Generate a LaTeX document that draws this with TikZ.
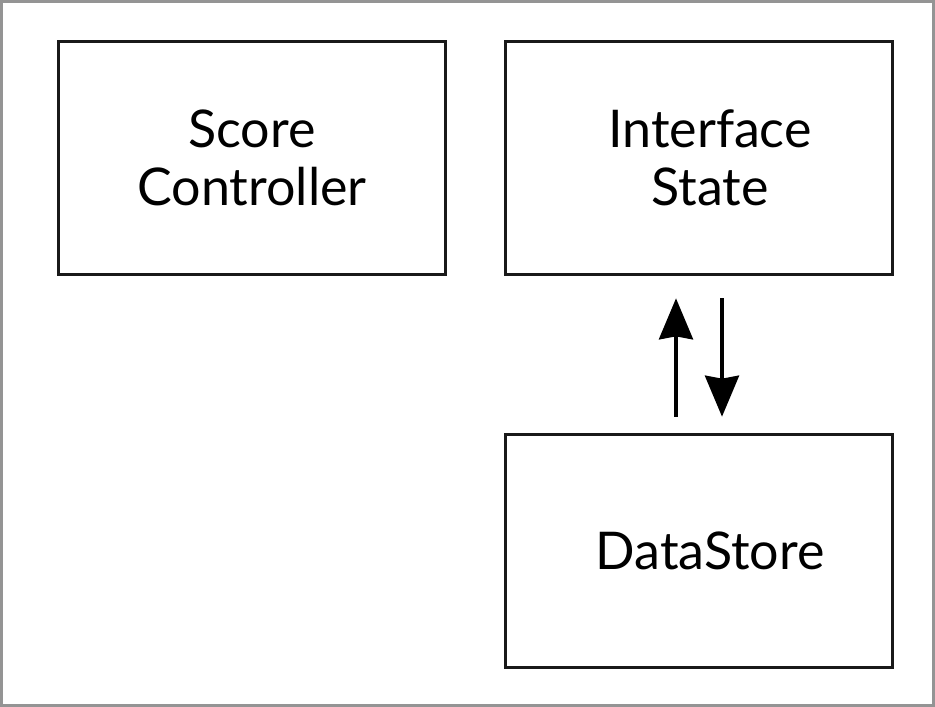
\documentclass[tikz,border=0pt]{standalone}
\usepackage{fontspec}
\setmainfont{Lato}
\usetikzlibrary{positioning,arrows.meta}

\newcommand{\nudge}{\hspace*{22pt}}

\tikzset{
	block/.style={draw=black!90, line width=3.7pt, minimum width=387pt, minimum height=233pt,
		align=center, font=\fontsize{52}{58}\selectfont},
	flow/.style={line width=3.5pt, -{Stealth[length=41pt,width=34pt,inset=3pt]}}
}

\begin{document}
\begin{tikzpicture}[x=1pt, y=-1pt]
	\draw[line width=3pt, draw=black!42, fill=white] (1.5,1.5) rectangle (933.5,705.5);
	\useasboundingbox (0,0) rectangle (935,707);

	\node[block] (score) at (252, 158) {Score\\Controller};
	\node[block, right=56.3pt of score] (iface) {\nudge Interface\\\nudge State};
	\node[block, below=156.3pt of iface] (store) {\nudge DataStore};

	\coordinate (upfoot) at ([xshift=-23pt, yshift=16pt]store.north);
	\coordinate (uptip) at ([xshift=-23pt, yshift=-22pt]iface.south);
	\coordinate (downfoot) at ([xshift=23pt, yshift=-22pt]iface.south);
	\coordinate (downtip) at ([xshift=23pt, yshift=16pt]store.north);

	\draw[flow] (upfoot) -- (uptip);
	\draw[flow] (downfoot) -- (downtip);
\end{tikzpicture}
\end{document}
